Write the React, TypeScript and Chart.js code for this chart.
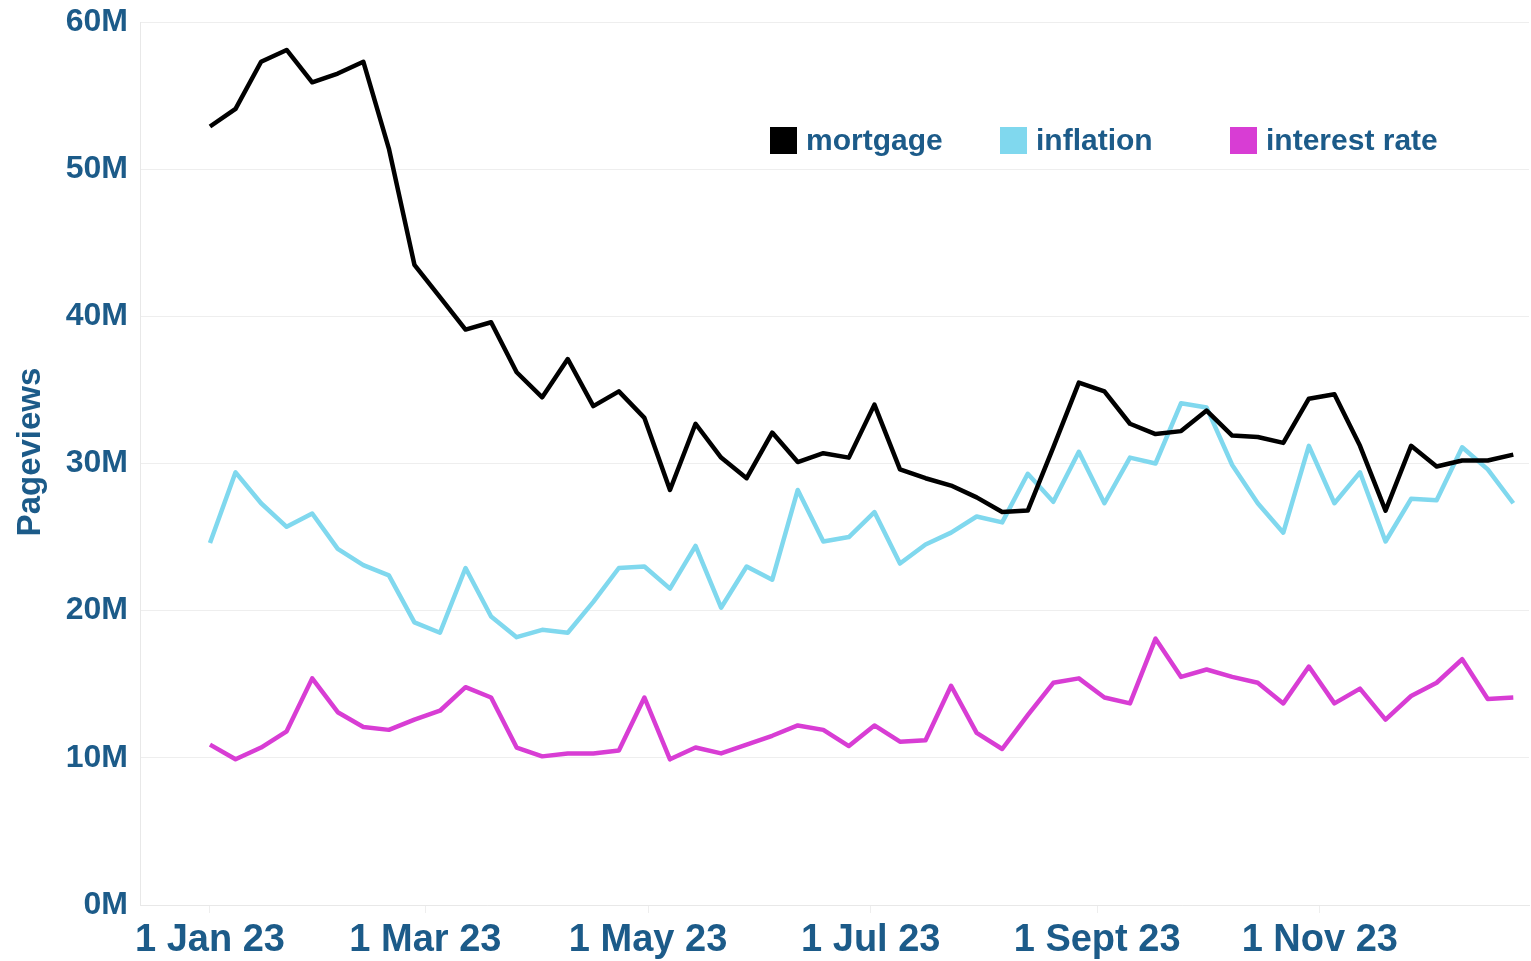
import React, { useEffect, useRef } from "react";
import { Chart, registerables } from "chart.js";

Chart.register(...registerables);

// day-of-year offsets of weekly points (week i starts 7*i days after 1 Jan 23)
const weekDays: number[] = [
  0, 7, 14, 21, 28, 35, 42, 49, 56, 63, 70, 77, 84, 91, 98, 105, 112, 119, 126, 133,
  140, 147, 154, 161, 168, 175, 182, 189, 196, 203, 210, 217, 224, 231, 238, 245, 252,
  259, 266, 273, 280, 287, 294, 301, 308, 315, 322, 329, 336, 343, 350, 357,
];

// pageviews in millions
const mortgage: number[] = [
  52.9, 54.1, 57.3, 58.1, 55.9, 56.5, 57.3, 51.4, 43.5, 41.3, 39.1, 39.6, 36.2, 34.5,
  37.1, 33.9, 34.9, 33.1, 28.2, 32.7, 30.4, 29.0, 32.1, 30.1, 30.7, 30.4, 34.0, 29.6,
  29.0, 28.5, 27.7, 26.7, 26.8, 31.1, 35.5, 34.9, 32.7, 32.0, 32.2, 33.6, 31.9, 31.8,
  31.4, 34.4, 34.7, 31.2, 26.8, 31.2, 29.8, 30.2, 30.2, 30.6,
];

const inflation: number[] = [
  24.6, 29.4, 27.3, 25.7, 26.6, 24.2, 23.1, 22.4, 19.2, 18.5, 22.9, 19.6, 18.2, 18.7,
  18.5, 20.6, 22.9, 23.0, 21.5, 24.4, 20.2, 23.0, 22.1, 28.2, 24.7, 25.0, 26.7, 23.2,
  24.5, 25.3, 26.4, 26.0, 29.3, 27.4, 30.8, 27.3, 30.4, 30.0, 34.1, 33.8, 29.9, 27.3,
  25.3, 31.2, 27.3, 29.4, 24.7, 27.6, 27.5, 31.1, 29.6, 27.3,
];

const interestRate: number[] = [
  10.9, 9.9, 10.7, 11.8, 15.4, 13.1, 12.1, 11.9, 12.6, 13.2, 14.8, 14.1, 10.7, 10.1,
  10.3, 10.3, 10.5, 14.1, 9.9, 10.7, 10.3, 10.9, 11.5, 12.2, 11.9, 10.8, 12.2, 11.1,
  11.2, 14.9, 11.7, 10.6, 12.9, 15.1, 15.4, 14.1, 13.7, 18.1, 15.5, 16.0, 15.5, 15.1,
  13.7, 16.2, 13.7, 14.7, 12.6, 14.2, 15.1, 16.7, 14.0, 14.1,
];

const xTickDays: number[] = [0, 59, 120, 181, 243, 304];
const xTickLabels: string[] = ["1 Jan 23", "1 Mar 23", "1 May 23", "1 Jul 23", "1 Sept 23", "1 Nov 23"];

const seriesNames: string[] = ["mortgage", "inflation", "interest rate"];
const seriesColors: string[] = ["#000000", "#80d8ee", "#d83dd4"];
const yTitle = "Pageviews";

const TEXT = "#1c5b89";
const FONT = "'Liberation Sans', Arial, sans-serif";

const legendPlugin = {
  id: "customLegend",
  afterDraw(chart: any) {
    const ctx = chart.ctx;
    const positions = [770, 1000, 1230];
    const cy = 141;
    ctx.save();
    ctx.font = `bold 30px ${FONT}`;
    ctx.textBaseline = "middle";
    ctx.textAlign = "left";
    seriesNames.forEach((name, i) => {
      const x = positions[i];
      ctx.fillStyle = seriesColors[i];
      ctx.fillRect(x, cy - 14, 27, 27);
      ctx.fillStyle = TEXT;
      ctx.fillText(name, x + 36, cy + 1);
    });
    // y axis title
    ctx.translate(31, 452);
    ctx.rotate(-Math.PI / 2);
    ctx.textAlign = "center";
    ctx.font = `bold 33px ${FONT}`;
    ctx.fillText(yTitle, 0, 0);
    ctx.restore();
  },
};

export default function App() {
  const ref = useRef<HTMLCanvasElement | null>(null);

  useEffect(() => {
    if (!ref.current) return;
    const mk = (vals: number[]) => weekDays.map((d, i) => ({ x: d, y: vals[i] }));
    const chart = new Chart(ref.current, {
      type: "line",
      data: {
        datasets: [
          { label: seriesNames[0], data: mk(mortgage), borderColor: seriesColors[0], backgroundColor: seriesColors[0] },
          { label: seriesNames[1], data: mk(inflation), borderColor: seriesColors[1], backgroundColor: seriesColors[1] },
          { label: seriesNames[2], data: mk(interestRate), borderColor: seriesColors[2], backgroundColor: seriesColors[2] },
        ].map((d) => ({ ...d, borderWidth: 4.5, pointRadius: 0, tension: 0, borderJoinStyle: "round" as const })),
      },
      options: {
        animation: false,
        responsive: true,
        maintainAspectRatio: false,
        layout: { padding: { left: 0, right: 2, top: 22, bottom: 0 } },
        plugins: {
          legend: { display: false },
          tooltip: { enabled: false },
        },
        scales: {
          x: {
            type: "linear",
            min: -19.17,
            max: 361.3,
            afterBuildTicks: (scale: any) => {
              scale.ticks = xTickDays.map((v) => ({ value: v }));
            },
            afterFit: (scale: any) => {
              scale.height = 56;
              scale.paddingLeft = 0;
              scale.paddingRight = 0;
            },
            ticks: {
              autoSkip: false,
              maxRotation: 0,
              color: TEXT,
              font: { family: FONT, size: 38, weight: "bold" },
              padding: 5,
              callback: (v: any) => {
                const idx = xTickDays.indexOf(Number(v));
                return idx >= 0 ? xTickLabels[idx] : "";
              },
            },
            grid: { drawOnChartArea: false, drawTicks: true, tickLength: 8, color: "#eeeeee" },
            border: { display: true, color: "#e8e8e8", width: 1 },
          },
          y: {
            min: 0,
            max: 60,
            afterFit: (scale: any) => {
              scale.width = 140;
              scale.paddingTop = 0;
              scale.paddingBottom = 0;
            },
            ticks: {
              stepSize: 10,
              color: TEXT,
              font: { family: FONT, size: 32, weight: "bold" },
              padding: 12,
              callback: (v: any) => `${v}M`,
            },
            grid: { color: "#eeeeee", drawTicks: false, lineWidth: 1 },
            border: { display: true, color: "#e8e8e8", width: 1 },
          },
        },
      },
      plugins: [legendPlugin],
    });
    return () => chart.destroy();
  }, []);

  return (
    <div style={{ position: "fixed", left: 0, top: 0, width: 1531, height: 961, background: "#ffffff" }}>
      <canvas ref={ref} />
    </div>
  );
}
